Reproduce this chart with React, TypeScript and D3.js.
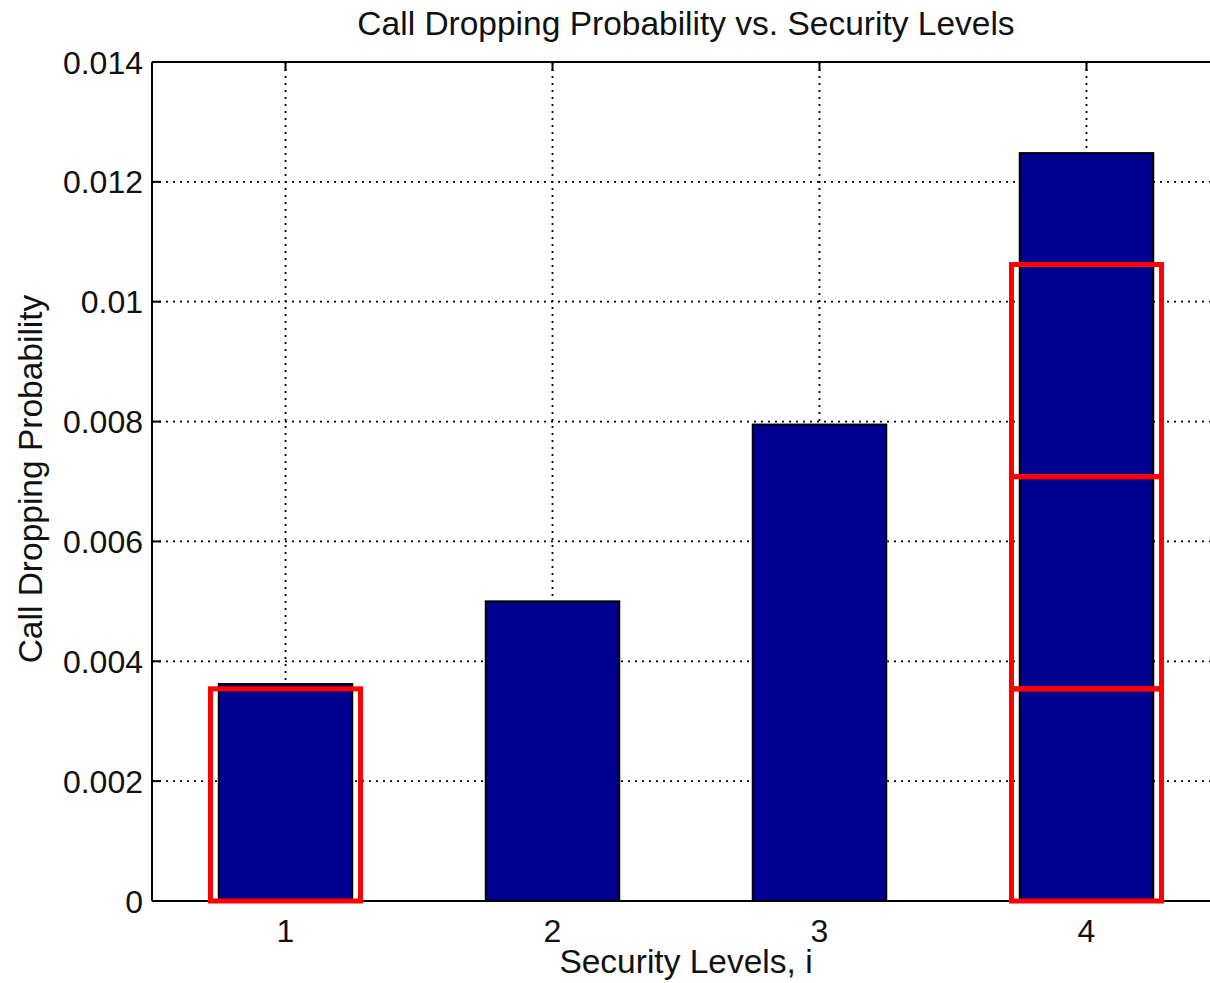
import React from "react";
import * as d3 from "d3";

const levels = [1, 2, 3, 4];
const dropProb = [0.00362, 0.005, 0.00795, 0.01248];
const yTicks = [0, 0.002, 0.004, 0.006, 0.008, 0.01, 0.012, 0.014];
const yTickLabels = ["0", "0.002", "0.004", "0.006", "0.008", "0.01", "0.012", "0.014"];
// red highlight boxes: [level, lower, upper]
const redBoxes: [number, number, number][] = [
  [1, 0, 0.00354],
  [4, 0, 0.00354],
  [4, 0.00354, 0.00708],
  [4, 0.00708, 0.01062],
];

const W = 1210;
const H = 983;
const left = 152;
const top = 62;
const bottom = 901;
const right = 1220;
const font = "'Liberation Sans', Arial, Helvetica, sans-serif";

export default function App() {
  const x = d3.scaleLinear().domain([0.5, 4.5]).range([left, right]);
  const y = d3.scaleLinear().domain([0, 0.014]).range([bottom, top]);
  const barW = x(0.5) - x(0);
  const redW = x(0.562) - x(0);
  const grid = "2,5";
  return (
    <svg width={W} height={H} style={{ position: "absolute", left: 0, top: 0, background: "#fff" }}>
      <rect x={0} y={0} width={W} height={H} fill="#fff" />
      {/* grid */}
      {yTicks.slice(1, -1).map((t) => (
        <line key={"gy" + t} x1={left} x2={right} y1={y(t)} y2={y(t)} stroke="#000" strokeWidth={1.8} strokeDasharray={grid} />
      ))}
      {levels.map((l) => (
        <line key={"gx" + l} x1={x(l)} x2={x(l)} y1={top} y2={bottom} stroke="#000" strokeWidth={1.8} strokeDasharray={grid} />
      ))}
      {/* ticks */}
      {yTicks.map((t) => (
        <line key={"ytk" + t} x1={left} x2={left + 9} y1={y(t)} y2={y(t)} stroke="#000" strokeWidth={2} />
      ))}
      {levels.map((l) => (
        <g key={"xtk" + l}>
          <line x1={x(l)} x2={x(l)} y1={bottom} y2={bottom - 9} stroke="#000" strokeWidth={2} />
          <line x1={x(l)} x2={x(l)} y1={top} y2={top + 9} stroke="#000" strokeWidth={2} />
        </g>
      ))}
      {/* bars */}
      {levels.map((l, i) => (
        <rect key={"b" + l} x={x(l) - barW / 2} y={y(dropProb[i])} width={barW} height={y(0) - y(dropProb[i])} fill="#00008f" stroke="#000" strokeWidth={2} />
      ))}
      {/* axes */}
      <line x1={left} x2={right} y1={top} y2={top} stroke="#000" strokeWidth={2} />
      <line x1={left} x2={right} y1={bottom} y2={bottom} stroke="#000" strokeWidth={2} />
      <line x1={left} x2={left} y1={top} y2={bottom} stroke="#000" strokeWidth={2} />
      {yTicks.map((t, i) => (
        <text key={"yl" + t} x={left - 9} y={y(t)} dy="0.36em" textAnchor="end" fontFamily={font} fontSize={32} fill="#111">
          {yTickLabels[i]}
        </text>
      ))}
      {levels.map((l) => (
        <text key={"xl" + l} x={x(l)} y={942} textAnchor="middle" fontFamily={font} fontSize={32} fill="#111">
          {l}
        </text>
      ))}
      {/* red boxes */}
      {redBoxes.map(([l, lo, hi], i) => (
        <rect key={"r" + i} x={x(l) - redW / 2} y={y(hi)} width={redW} height={y(lo) - y(hi)} fill="none" stroke="#ff0000" strokeWidth={5} />
      ))}
      {/* labels */}
      <text x={(left + right) / 2} y={35} textAnchor="middle" fontFamily={font} fontSize={33.5} fill="#111">
        Call Dropping Probability vs. Security Levels
      </text>
      <text x={(left + right) / 2} y={973} textAnchor="middle" fontFamily={font} fontSize={33.5} fill="#111">
        Security Levels, i
      </text>
      <text transform={`translate(42,479) rotate(-90)`} textAnchor="middle" fontFamily={font} fontSize={33.5} fill="#111">
        Call Dropping Probability
      </text>
    </svg>
  );
}
